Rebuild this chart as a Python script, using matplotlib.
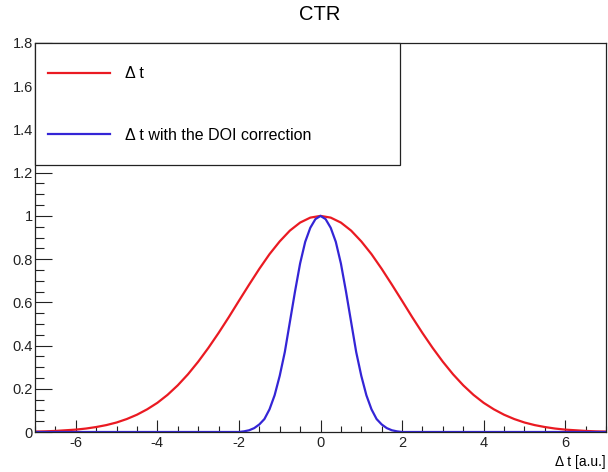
import numpy as np
import matplotlib
matplotlib.use("Agg")
import matplotlib.pyplot as plt
from matplotlib.ticker import MultipleLocator, FuncFormatter
from matplotlib.lines import Line2D
from matplotlib.patches import Rectangle

plt.rcParams['font.family'] = ['Liberation Sans', 'DejaVu Sans']
plt.rcParams['axes.unicode_minus'] = False

# sampling points along delta t (step 0.25 from -7 to 7)
dt = np.arange(-7.0, 7.0001, 0.25)

# delta t distribution
ctr = [0.002, 0.003, 0.005, 0.008, 0.011, 0.016, 0.023, 0.032, 0.044, 0.060,
       0.080, 0.105, 0.135, 0.172, 0.216, 0.267, 0.325, 0.389, 0.458, 0.531,
       0.607, 0.682, 0.755, 0.823, 0.882, 0.932, 0.969, 0.992, 1.000,
       0.992, 0.969, 0.932, 0.882, 0.823, 0.755, 0.682, 0.607, 0.531, 0.458,
       0.389, 0.325, 0.267, 0.216, 0.172, 0.135, 0.105, 0.080, 0.060, 0.044,
       0.032, 0.023, 0.016, 0.011, 0.008, 0.005, 0.003, 0.002]

# delta t with the DOI correction, finer sampling in the peak
dt_doi = [-7.0, -2.0, -1.875, -1.75, -1.625, -1.5, -1.375, -1.25, -1.125,
          -1.0, -0.875, -0.75, -0.625, -0.5, -0.375, -0.25, -0.125, 0.0,
          0.125, 0.25, 0.375, 0.5, 0.625, 0.75, 0.875, 1.0, 1.125, 1.25,
          1.375, 1.5, 1.625, 1.75, 1.875, 2.0, 7.0]
ctr_doi = [0.0, 0.0, 0.003, 0.008, 0.018, 0.035, 0.06, 0.105, 0.17,
           0.26, 0.37, 0.51, 0.65, 0.78, 0.88, 0.945, 0.985, 1.0,
           0.985, 0.945, 0.88, 0.78, 0.65, 0.51, 0.37, 0.26, 0.17, 0.105,
           0.06, 0.035, 0.018, 0.008, 0.003, 0.0, 0.0]

W, H = 608, 472
red = '#ea1a22'
blue = '#3425d6'

fig = plt.figure(figsize=(W / 100, H / 100), dpi=100)
ax = fig.add_axes([35 / W, (H - 432) / H, 571 / W, 389 / H])

ax.plot(dt, ctr, color=red, lw=1.6)
ax.plot(dt_doi, ctr_doi, color=blue, lw=1.6)

ax.set_xlim(-7, 7)
ax.set_ylim(0, 1.8)
ax.xaxis.set_major_locator(MultipleLocator(2))
ax.xaxis.set_minor_locator(MultipleLocator(0.5))
ax.yaxis.set_major_locator(MultipleLocator(0.2))
ax.yaxis.set_minor_locator(MultipleLocator(0.05))
ax.yaxis.set_major_formatter(FuncFormatter(lambda v, p: '%g' % round(v, 2)))
ax.xaxis.set_major_formatter(FuncFormatter(lambda v, p: '%g' % round(v, 2)))

ax.tick_params(axis='x', which='major', direction='in', length=8.4, width=0.8,
               labelsize=10.5, pad=3, colors='#222222')
ax.tick_params(axis='x', which='minor', direction='in', length=4.2, width=0.8,
               colors='#222222')
ax.tick_params(axis='y', which='major', direction='in', length=12.3, width=0.8,
               labelsize=10.5, pad=1.5, colors='#222222')
ax.tick_params(axis='y', which='minor', direction='in', length=6.2, width=0.8,
               colors='#222222')
for s in ax.spines.values():
    s.set_linewidth(0.9)
    s.set_color('#222222')

# title and x axis title
fig.text(320 / W, 1 - 15 / H, 'CTR', ha='center', va='center', fontsize=14.5)
fig.text(606 / W, 1 - 462 / H, 'Δ t [a.u.]', ha='right', va='center', fontsize=10)

# legend box, ROOT style
fig.add_artist(Rectangle((35 / W, 1 - 165 / H), 365 / W, 122 / H,
                         transform=fig.transFigure, facecolor='white',
                         edgecolor='#222222', lw=0.9))
fig.add_artist(Line2D([48 / W, 110 / W], [1 - 73 / H] * 2,
                      transform=fig.transFigure, color=red, lw=1.6))
fig.add_artist(Line2D([48 / W, 110 / W], [1 - 134 / H] * 2,
                      transform=fig.transFigure, color=blue, lw=1.6))
fig.text(125 / W, 1 - 74 / H, 'Δ t', ha='left', va='center', fontsize=11.5)
fig.text(125 / W, 1 - 135 / H, 'Δ t with the DOI correction', ha='left',
         va='center', fontsize=11.5)

fig.savefig('out.png', dpi=100)
